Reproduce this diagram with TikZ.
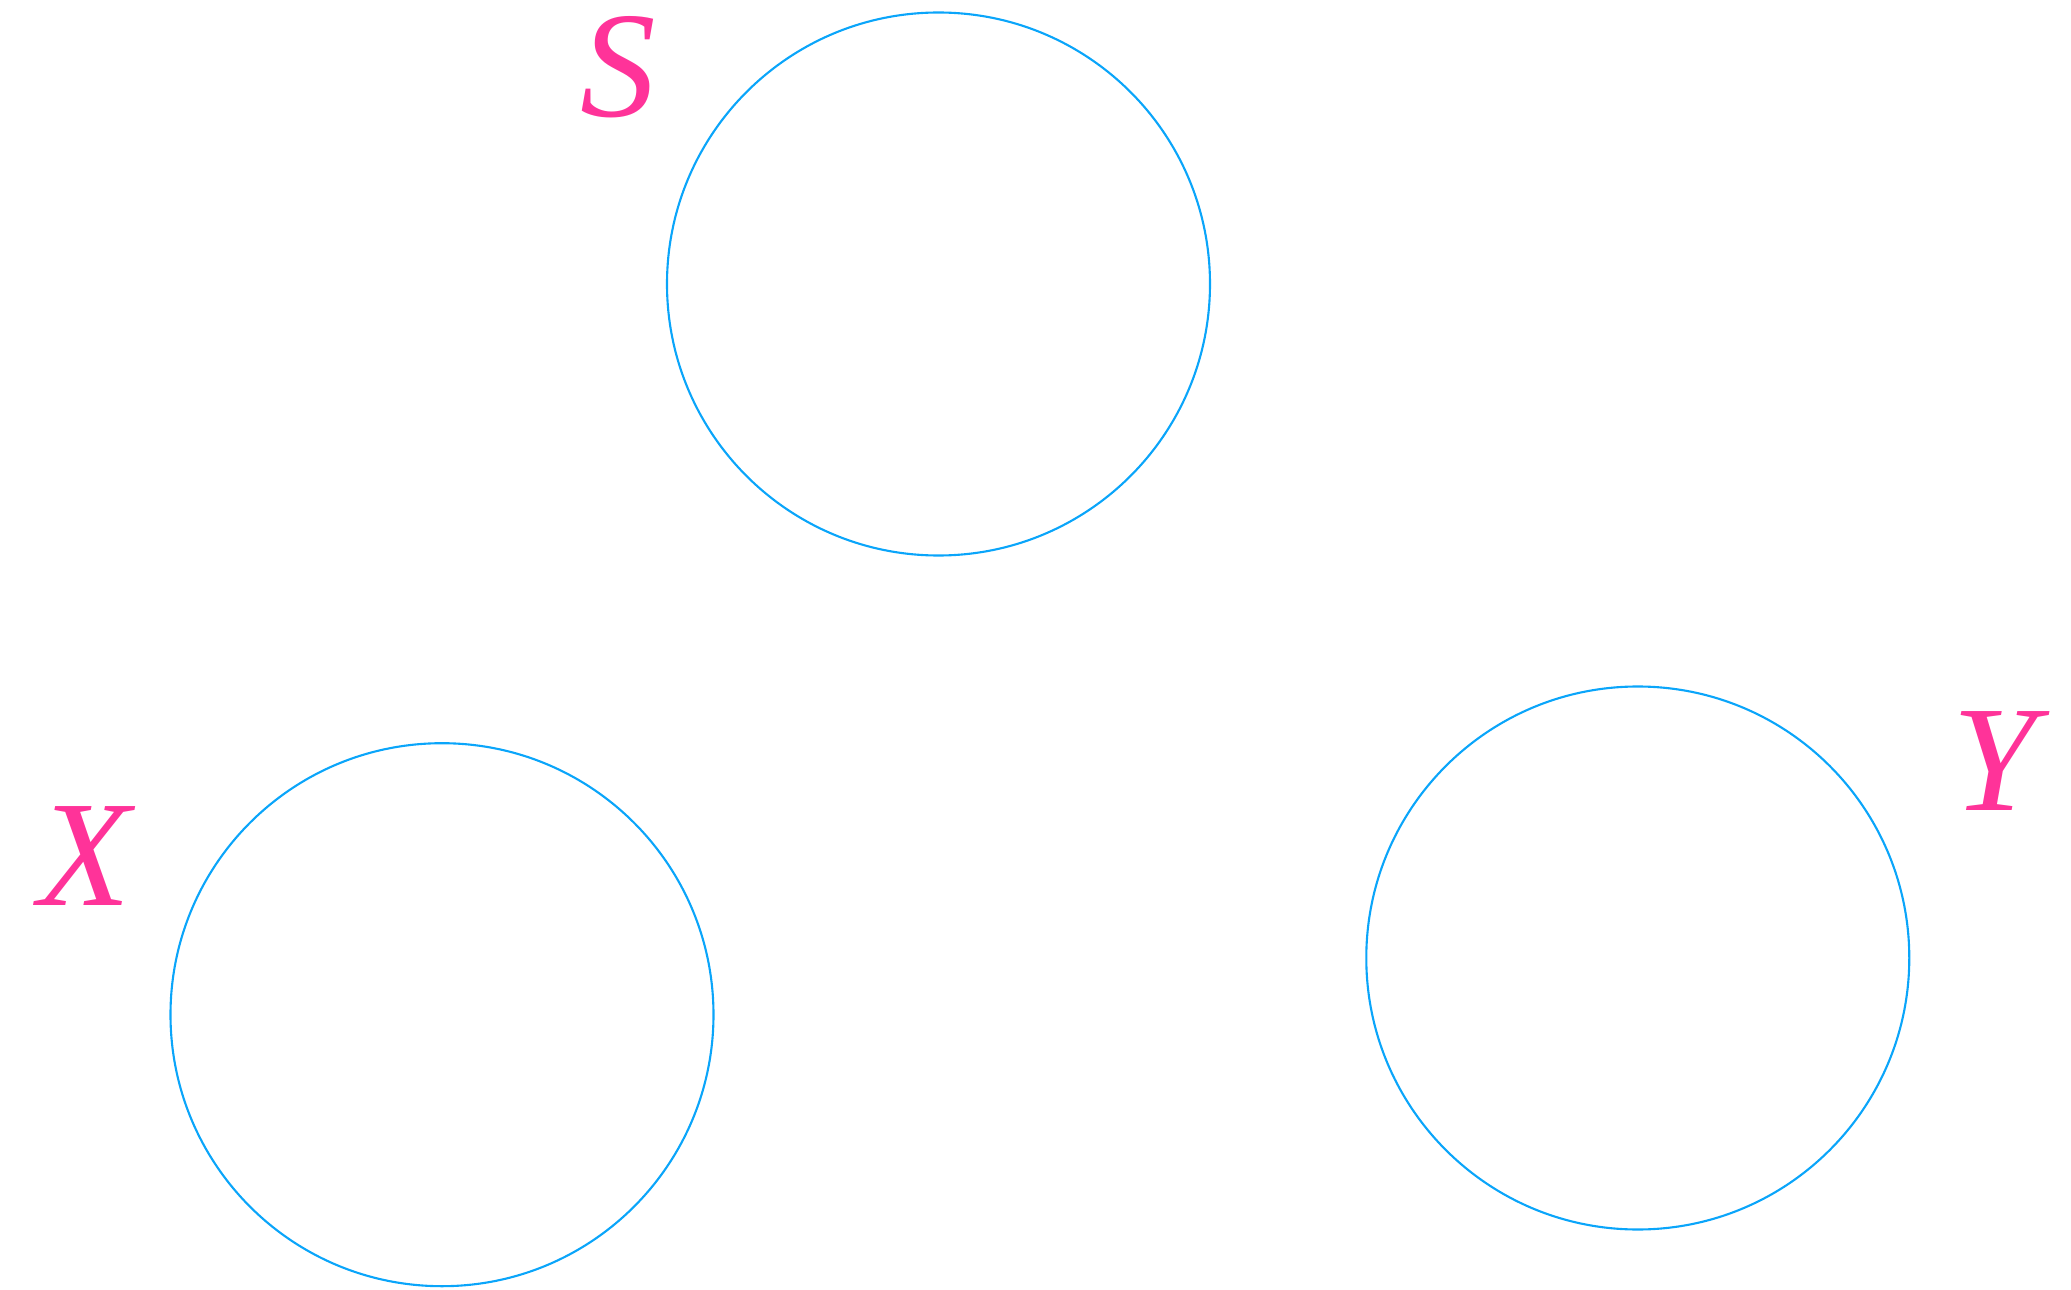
\documentclass[tikz,border=0pt]{standalone}
\usepackage{fontspec}
\setmainfont{Liberation Serif}
\usepackage{tikz}
\usetikzlibrary{positioning}
\usepackage{xcolor}
\definecolor{SetBlue}{RGB}{10,165,250}
\definecolor{SetPink}{RGB}{255,51,153}

\begin{document}
\begin{tikzpicture}[
  setcircle/.style={draw=SetBlue,circle,line width=0.6pt,
                    minimum size=5.43cm,inner sep=0pt},
  setlabel/.style={text=SetPink,inner sep=0pt,
                   font=\fontsize{43}{43}\selectfont\itshape},
]
\useasboundingbox (0,0) rectangle (20.71,12.89);
\node[setcircle] (s) at (9.385,10.05) {};
\node[setcircle] (x) at (4.42,2.743) {};
\node[setcircle] (y) at (16.378,3.31) {};
\node[setlabel] (slabel) at (6.18,12.22) {S};
\node[setlabel] (xlabel) at (0.85,4.33) {X};
\node[setlabel] (ylabel) at (19.95,5.28) {Y};
\end{tikzpicture}
\end{document}
